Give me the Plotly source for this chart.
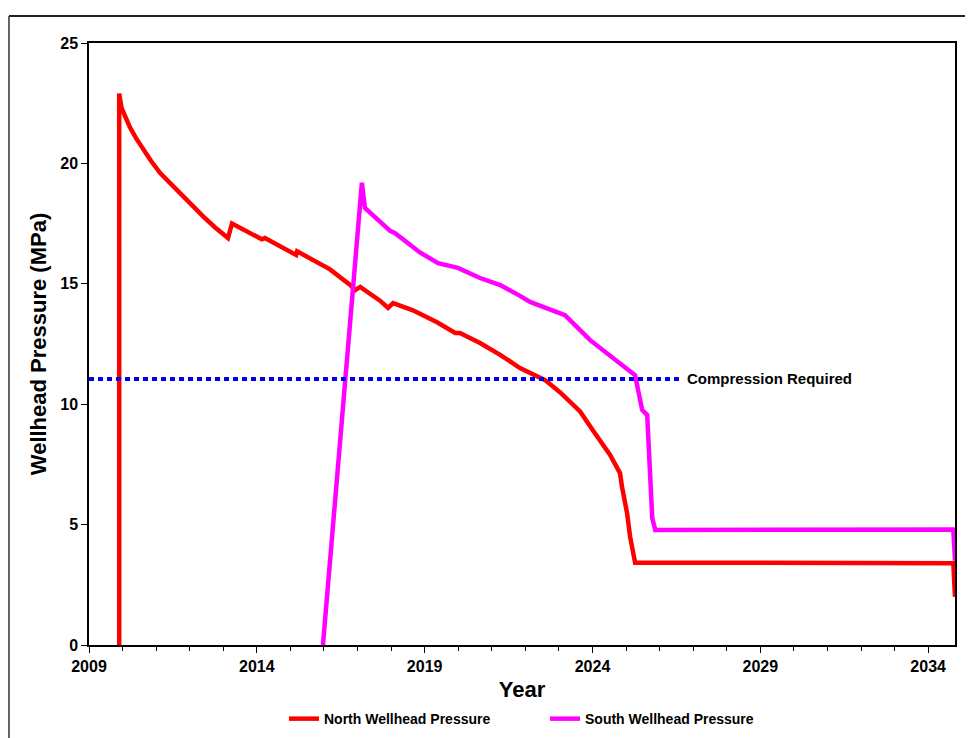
import plotly.graph_objects as go

north_year = [2009.90, 2009.90, 2009.97, 2010.10, 2010.22, 2010.40, 2010.61, 2010.85, 2011.12, 2011.40,
              2011.71, 2012.05, 2012.40, 2012.75, 2013.14, 2013.26,
              2014.15, 2014.24, 2015.17, 2015.20, 2015.67, 2016.18, 2016.78, 2016.93, 2017.08, 2017.46,
              2017.67, 2017.91, 2018.06, 2018.65, 2019.37, 2019.91, 2020.05, 2020.65, 2021.25, 2021.84, 2022.59,
              2023.03, 2023.63, 2024.02, 2024.52, 2024.82, 2024.88, 2025.03, 2025.12, 2025.27, 2034.75, 2034.80]
north_mpa = [0.0, 22.9, 22.3, 21.85, 21.5, 21.05, 20.6, 20.1, 19.6, 19.2,
             18.8, 18.3, 17.8, 17.35, 16.9, 17.5,
             16.85, 16.9, 16.2, 16.35, 16.0, 15.6, 14.95, 14.74, 14.87, 14.5,
             14.3, 14.0, 14.2, 13.9, 13.4, 12.96, 12.96, 12.54, 12.05, 11.5, 11.0,
             10.5, 9.7, 8.9, 7.9, 7.14, 6.56, 5.48, 4.5, 3.42, 3.4, 2.0]

south_year = [2015.97, 2017.13, 2017.22, 2017.67, 2017.97, 2018.12, 2018.86, 2019.40, 2019.99, 2020.65,
              2021.25, 2021.84, 2022.14, 2023.18, 2023.93, 2025.27, 2025.48, 2025.63, 2025.72, 2025.78,
              2025.87, 2034.75, 2034.80]
south_mpa = [0.0, 19.2, 18.15, 17.57, 17.2, 17.1, 16.3, 15.86, 15.66, 15.24,
             14.95, 14.5, 14.25, 13.7, 12.66, 11.2, 9.76, 9.55, 7.4, 5.27,
             4.78, 4.8, 3.5]

compression_year = [2009.0, 2026.6]
compression_mpa = [11.05, 11.05]

x_ticks = [2009, 2014, 2019, 2024, 2029, 2034]
y_ticks = [0, 5, 10, 15, 20, 25]

FONT = "Liberation Sans"

fig = go.Figure()
fig.add_trace(go.Scatter(x=north_year, y=north_mpa, mode="lines", name="<b>North Wellhead Pressure</b>",
                         line=dict(color="#FF0000", width=4.5)))
fig.add_trace(go.Scatter(x=south_year, y=south_mpa, mode="lines", name="<b>South Wellhead Pressure</b>",
                         line=dict(color="#FF00FF", width=4.5)))
fig.add_trace(go.Scatter(x=compression_year, y=compression_mpa, mode="lines", showlegend=False,
                         line=dict(color="#0000EE", width=4, dash="5px,4px")))

fig.add_annotation(x=2026.75, y=11.05, text="<b>Compression Required</b>", showarrow=False,
                   xanchor="left", yanchor="middle", font=dict(family=FONT, size=15, color="black"))

# outer chart frame (top and left edges; right/bottom fall outside the picture)
fig.add_shape(type="line", xref="paper", yref="paper", x0=-0.0924, x1=1.05, y0=1.045, y1=1.045,
              line=dict(color="#222222", width=2), layer="above")
fig.add_shape(type="line", xref="paper", yref="paper", x0=-0.0924, x1=-0.0924, y0=-0.2, y1=1.045,
              line=dict(color="#333333", width=1.5), layer="above")

fig.update_layout(
    width=973, height=738,
    margin=dict(l=81, r=26, t=35, b=101, autoexpand=False),
    paper_bgcolor="white", plot_bgcolor="white",
    font=dict(family=FONT, color="black"),
    showlegend=True,
    legend=dict(orientation="h", x=(284 - 89) / 866, xanchor="left", y=-0.123, yanchor="middle",
                font=dict(family=FONT, size=14), itemwidth=30, entrywidth=216, entrywidthmode="pixels",
                bgcolor="rgba(0,0,0,0)"),
    xaxis=dict(range=[2009, 2034.8], tickvals=x_ticks, ticktext=[f"<b>{v}</b>" for v in x_ticks],
               ticks="outside", ticklen=6, tickwidth=1, tickcolor="black",
               minor=dict(dtick=1, tick0=2009, ticks="outside", ticklen=4, tickcolor="black"),
               showline=True, linecolor="black", linewidth=1.5, mirror=True,
               showgrid=False, zeroline=False, automargin=False,
               tickfont=dict(family=FONT, size=16),
               title=dict(text="<b>Year</b>", font=dict(family=FONT, size=22), standoff=8)),
    yaxis=dict(range=[0, 25], tickvals=y_ticks, ticktext=[f"<b>{v}</b>" for v in y_ticks],
               ticks="outside", ticklen=6, tickwidth=1, tickcolor="black",
               showline=True, linecolor="black", linewidth=1.5, mirror=True,
               showgrid=False, zeroline=False, automargin=False,
               tickfont=dict(family=FONT, size=16),
               title=dict(text="<b>Wellhead Pressure (MPa)</b>", font=dict(family=FONT, size=22), standoff=8)),
)

fig.write_html("out.html")
